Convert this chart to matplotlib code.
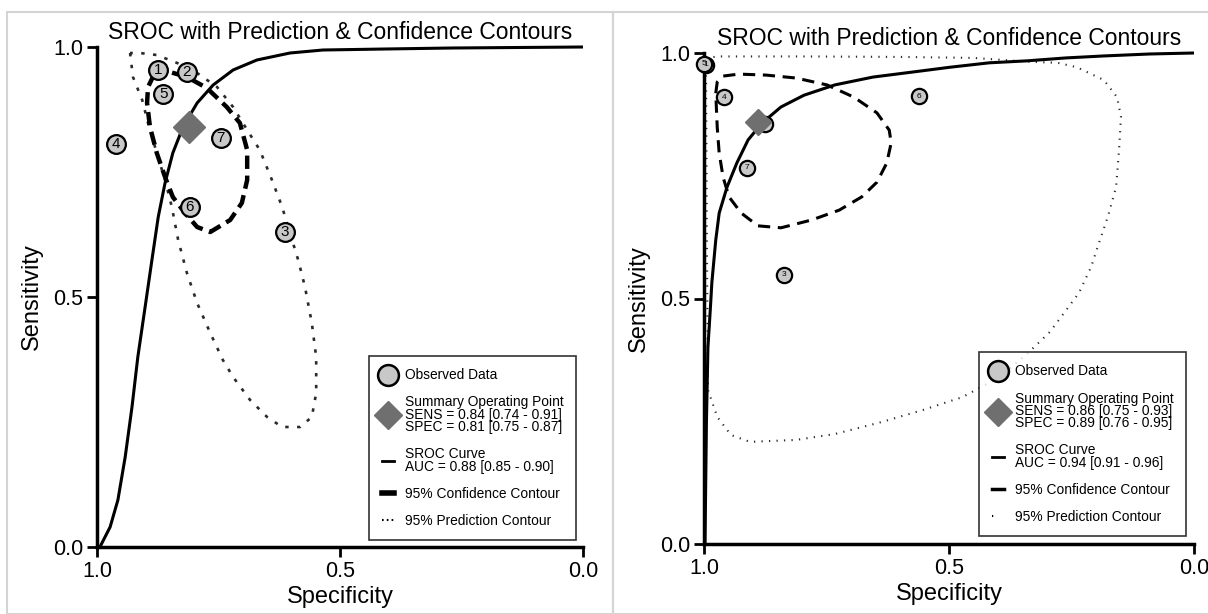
import matplotlib
matplotlib.use("Agg")
import matplotlib.pyplot as plt
from matplotlib.lines import Line2D
from matplotlib.patches import Rectangle

# ---------------- data ----------------
# left panel
L_ids = ['1', '2', '3', '4', '5', '6', '7']
L_spec = [0.874, 0.815, 0.613, 0.961, 0.864, 0.809, 0.745]
L_sens = [0.954, 0.950, 0.630, 0.806, 0.906, 0.680, 0.818]
L_sum = (0.81, 0.84)
L_roc_spec = [0.994, 0.973, 0.957, 0.942, 0.928, 0.916, 0.901, 0.887, 0.874, 0.860, 0.844, 0.823, 0.794,
              0.761, 0.720, 0.671, 0.603, 0.535, 0.407, 0.27, 0.0]
L_roc_sens = [0.0, 0.04, 0.094, 0.18, 0.28, 0.38, 0.48, 0.574, 0.66, 0.728, 0.788, 0.84, 0.888,
              0.924, 0.954, 0.974, 0.988, 0.994, 0.996, 0.998, 1.0]
L_conf_spec = [0.885, 0.850, 0.815, 0.774, 0.733, 0.706, 0.691, 0.691, 0.702, 0.726, 0.767, 0.794, 0.819,
               0.844, 0.860, 0.877, 0.891, 0.897, 0.895, 0.885]
L_conf_sens = [0.940, 0.950, 0.940, 0.918, 0.880, 0.848, 0.794, 0.734, 0.688, 0.654, 0.630, 0.640, 0.668,
               0.700, 0.740, 0.788, 0.840, 0.888, 0.920, 0.940]
L_pred_spec = [0.932, 0.926, 0.907, 0.895, 0.877, 0.860, 0.846, 0.833, 0.815, 0.794, 0.767, 0.741, 0.720,
               0.685, 0.650, 0.619, 0.582, 0.558, 0.549, 0.549, 0.558, 0.572, 0.586, 0.603, 0.619, 0.640,
               0.665, 0.691, 0.720, 0.753, 0.794, 0.835, 0.877, 0.912, 0.932]
L_pred_sens = [0.988, 0.940, 0.894, 0.848, 0.788, 0.734, 0.680, 0.614, 0.548, 0.488, 0.428, 0.374, 0.340,
               0.294, 0.260, 0.240, 0.240, 0.260, 0.308, 0.380, 0.448, 0.520, 0.574, 0.628, 0.680, 0.734,
               0.794, 0.834, 0.880, 0.920, 0.948, 0.968, 0.984, 0.988, 0.988]
L_lab_sum = 'Summary Operating Point\nSENS = 0.84 [0.74 - 0.91]\nSPEC = 0.81 [0.75 - 0.87]'
L_lab_roc = 'SROC Curve\nAUC = 0.88 [0.85 - 0.90]'

# right panel
R_ids = ['1', '5', '4', '2', '7', '6', '3']
R_spec = [0.996, 1.0, 0.959, 0.876, 0.912, 0.561, 0.837]
R_sens = [0.976, 0.978, 0.910, 0.855, 0.766, 0.912, 0.548]
R_sum = (0.89, 0.86)
R_roc_spec = [0.998, 0.995, 0.992, 0.987, 0.984, 0.976, 0.969, 0.953, 0.933, 0.910, 0.882, 0.843, 0.796,
              0.733, 0.655, 0.576, 0.498, 0.418, 0.341, 0.261, 0.184, 0.09, 0.0]
R_roc_sens = [0.0, 0.25, 0.40, 0.48, 0.532, 0.619, 0.674, 0.727, 0.776, 0.823, 0.857, 0.890, 0.914,
              0.935, 0.951, 0.961, 0.971, 0.980, 0.984, 0.990, 0.994, 0.998, 1.0]
R_conf_spec = [0.976, 0.973, 0.961, 0.929, 0.873, 0.812, 0.749, 0.694, 0.647, 0.622, 0.618, 0.627, 0.647,
               0.678, 0.724, 0.780, 0.843, 0.890, 0.924, 0.949, 0.961, 0.969, 0.973, 0.976]
R_conf_sens = [0.918, 0.941, 0.953, 0.957, 0.955, 0.949, 0.935, 0.910, 0.878, 0.843, 0.817, 0.776, 0.737,
               0.707, 0.680, 0.660, 0.644, 0.648, 0.674, 0.707, 0.747, 0.796, 0.849, 0.918]
R_pred_spec = [0.996, 0.97, 0.80, 0.60, 0.45, 0.333, 0.278, 0.239, 0.184, 0.157, 0.149, 0.153, 0.159, 0.176,
               0.192, 0.210, 0.235, 0.294, 0.341, 0.396, 0.473, 0.553, 0.639, 0.733, 0.812, 0.906, 0.945,
               0.973, 0.992, 0.994, 0.996]
R_pred_sens = [0.990, 0.993, 0.993, 0.992, 0.990, 0.982, 0.980, 0.971, 0.945, 0.910, 0.870, 0.802, 0.727, 0.666,
               0.619, 0.564, 0.511, 0.432, 0.387, 0.340, 0.299, 0.273, 0.248, 0.224, 0.212, 0.208, 0.222,
               0.259, 0.314, 0.60, 0.990]
R_lab_sum = 'Summary Operating Point\nSENS = 0.86 [0.75 - 0.93]\nSPEC = 0.89 [0.76 - 0.95]'
R_lab_roc = 'SROC Curve\nAUC = 0.94 [0.91 - 0.96]'

FONT = ['Liberation Sans', 'DejaVu Sans']
plt.rcParams['font.family'] = FONT

fig = plt.figure(figsize=(12.08, 6.14), dpi=100)

# light grey panel frames
fig.patches.append(Rectangle((7 / 1208, 0), 606 / 1208, 602 / 614, transform=fig.transFigure,
                             fill=False, edgecolor='#d4d4d4', lw=1.5))
fig.patches.append(Rectangle((613 / 1208, 0), 600 / 1208, 602 / 614, transform=fig.transFigure,
                             fill=False, edgecolor='#d4d4d4', lw=1.5))


def panel(rect, ids, spec, sens, summ, roc_x, roc_y, conf_x, conf_y, pred_x, pred_y,
          lab_sum, lab_roc, left, msize, nsize, dsize, conf_style, pred_style, leg_anchor):
    ax = fig.add_axes(rect)
    ax.set_xlim(1.0, 0.0)
    ax.set_ylim(0.0, 1.0)
    for s in ['top', 'right']:
        ax.spines[s].set_visible(False)
    for s in ['left', 'bottom']:
        ax.spines[s].set_linewidth(2.5)
    ax.set_xticks([1.0, 0.5, 0.0])
    ax.set_yticks([0.0, 0.5, 1.0])
    ax.set_xticklabels(['1.0', '0.5', '0.0'])
    ax.set_yticklabels(['0.0', '0.5', '1.0'])
    ax.tick_params(direction='out', length=7, width=2, labelsize=15.5, pad=3)

    ax.plot(pred_x, pred_y, color='#2a2a2a', **pred_style)
    ax.plot(conf_x, conf_y, color='black', **conf_style)
    ax.plot(roc_x, roc_y, color='black', lw=2.2, clip_on=False, solid_capstyle='butt')
    ax.plot(spec, sens, 'o', ms=msize, mfc='#c8c8c8', mec='black', mew=1.6, ls='none', zorder=5, clip_on=False)
    for i, x, y in zip(ids, spec, sens):
        ax.text(x, y, i, ha='center', va='center', fontsize=nsize, zorder=6)
    ax.plot(summ[0], summ[1], 'D', ms=dsize, color='#6f6f6f', zorder=7)

    ax.set_xlabel('Specificity', fontsize=17, labelpad=3)
    ax.set_ylabel('Sensitivity', fontsize=17, labelpad=7)
    ax.set_title('SROC with Prediction & Confidence Contours', fontsize=16.5, pad=6)

    handles = [
        Line2D([], [], marker='o', ms=15, mfc='#c8c8c8', mec='black', mew=1.8, ls='none'),
        Line2D([], [], marker='D', ms=14, color='#6f6f6f', ls='none'),
        Line2D([], [], color='black', lw=2),
        Line2D([], [], color='black', lw=4 if left else 2.5),
        Line2D([], [], color='black', lw=1.5, linestyle=(0, (0.8, 1.5)) if left else (0, (0.6, 6))),
    ]
    labels = ['Observed Data', lab_sum, lab_roc, '95% Confidence Contour', '95% Prediction Contour']
    leg = ax.legend(handles, labels, loc='lower right', bbox_to_anchor=leg_anchor, frameon=True,
                    fancybox=False, edgecolor='black', handlelength=0.9, handletextpad=0.8,
                    labelspacing=0.95, borderpad=0.9, borderaxespad=0, prop={'size': 9.9})
    leg.get_frame().set_linewidth(1.2)
    for t in leg.get_texts():
        t.set_linespacing(0.85)
    return ax


panel([97 / 1208, 67 / 614, 486 / 1208, 500 / 614], L_ids, L_spec, L_sens, L_sum,
      L_roc_spec, L_roc_sens, L_conf_spec, L_conf_sens, L_pred_spec, L_pred_sens,
      L_lab_sum, L_lab_roc, True, 13.5, 11, 16,
      {'lw': 3.2, 'linestyle': (0, (3, 1.5))},
      {'lw': 1.9, 'linestyle': (0, (1.3, 3.2))},
      (0.986, 0.014))

panel([704 / 1208, 70 / 614, 490 / 1208, 491 / 614], R_ids, R_spec, R_sens, R_sum,
      R_roc_spec, R_roc_sens, R_conf_spec, R_conf_sens, R_pred_spec, R_pred_sens,
      R_lab_sum, R_lab_roc, False, 11, 6, 13,
      {'lw': 2.2, 'linestyle': (0, (4, 2.5))},
      {'lw': 1.5, 'linestyle': (0, (0.6, 3))},
      (0.984, 0.016))

fig.savefig('out.png', dpi=100)
